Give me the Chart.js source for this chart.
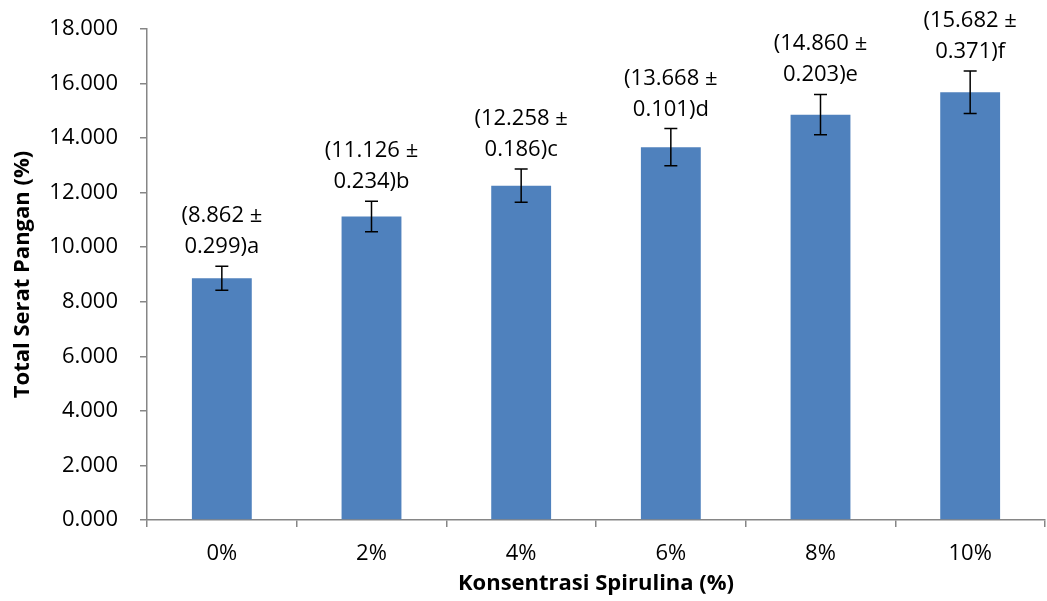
<!DOCTYPE html>
<html>
<head>
<meta charset="utf-8">
<script src="https://cdn.jsdelivr.net/npm/chart.js@4.4.1/dist/chart.umd.min.js"></script>
<style>
    html, body { margin: 0; padding: 0; background: #fff; }
    #wrap { width: 1047px; height: 601px; position: relative; }
</style>
</head>
<body>
<div id="wrap"><canvas id="chart"></canvas></div>
<script>
// Data
const categories = ['0%', '2%', '4%', '6%', '8%', '10%'];
const means = [8.862, 11.126, 12.258, 13.668, 14.860, 15.682];
const sds = ['0.299', '0.234', '0.186', '0.101', '0.203', '0.371'];
const letters = ['a', 'b', 'c', 'd', 'e', 'f'];
// drawn error bar half-lengths (as shown in the chart)
const errs = [0.44, 0.56, 0.61, 0.68, 0.74, 0.78];
const yTicks = [0, 2, 4, 6, 8, 10, 12, 14, 16, 18];

const AXIS = '#868686';
const FONT = "'Open Sans', 'Liberation Sans', sans-serif";

// Error bars + two-line labels above them
const errorBarPlugin = {
    id: 'errorBars',
    afterDatasetsDraw(chart) {
        const ctx = chart.ctx;
        const meta = chart.getDatasetMeta(0);
        const y = chart.scales.y;
        ctx.save();
        meta.data.forEach((bar, i) => {
            const x = bar.x;
            const top = y.getPixelForValue(means[i] + errs[i]);
            const bot = y.getPixelForValue(means[i] - errs[i]);
            ctx.strokeStyle = '#000';
            ctx.lineWidth = 1.5;
            ctx.beginPath();
            ctx.moveTo(x, top); ctx.lineTo(x, bot);
            ctx.moveTo(x - 6.5, top); ctx.lineTo(x + 6.5, top);
            ctx.moveTo(x - 6.5, bot); ctx.lineTo(x + 6.5, bot);
            ctx.stroke();

            ctx.fillStyle = '#000';
            ctx.font = '22px ' + FONT;
            ctx.textAlign = 'center';
            ctx.textBaseline = 'alphabetic';
            const base2 = top - 13;
            ctx.fillText('(' + means[i].toFixed(3) + ' \u00b1', x, base2 - 31);
            ctx.fillText(sds[i] + ')' + letters[i], x, base2);
        });
        ctx.restore();
    }
};

new Chart(document.getElementById('chart'), {
    type: 'bar',
    data: {
        labels: categories,
        datasets: [{
            data: means,
            backgroundColor: '#4F81BD',
            borderWidth: 0,
            barPercentage: 0.4,
            categoryPercentage: 1.0
        }]
    },
    options: {
        responsive: true,
        maintainAspectRatio: false,
        animation: false,
        layout: { padding: { top: 29, right: 2, left: 0, bottom: 0 } },
        plugins: {
            legend: { display: false },
            tooltip: { enabled: false }
        },
        scales: {
            x: {
                border: { color: AXIS, width: 1.5 },
                grid: { display: true, drawOnChartArea: false, offset: true, color: AXIS, tickLength: 7, lineWidth: 1.5 },
                ticks: { color: '#000', font: { family: FONT, size: 22 }, padding: 14 },
                title: {
                    display: true,
                    text: 'Konsentrasi Spirulina (%)',
                    color: '#000',
                    font: { family: FONT, size: 22, weight: 'bold' },
                    padding: { top: 0, bottom: 4 }
                },
                afterFit(scale) {
                    scale.height = 81;
                    scale.paddingLeft = 0;
                    scale.paddingRight = 0;
                }
            },
            y: {
                min: 0,
                max: 18,
                afterBuildTicks(scale) { scale.ticks = yTicks.map(v => ({ value: v })); },
                border: { color: AXIS, width: 1.5 },
                grid: { display: true, drawOnChartArea: false, color: AXIS, tickLength: 7, lineWidth: 1.5 },
                ticks: {
                    color: '#000',
                    font: { family: FONT, size: 22 },
                    padding: 22,
                    callback: v => v.toFixed(3)
                },
                title: {
                    display: true,
                    text: 'Total Serat Pangan (%)',
                    color: '#000',
                    font: { family: FONT, size: 22, weight: 'bold' },
                    padding: { top: 10, bottom: 0 }
                },
                afterFit(scale) {
                    scale.width = 147;
                    scale.paddingTop = 0;
                    scale.paddingBottom = 0;
                }
            }
        }
    },
    plugins: [errorBarPlugin]
});
</script>
</body>
</html>
